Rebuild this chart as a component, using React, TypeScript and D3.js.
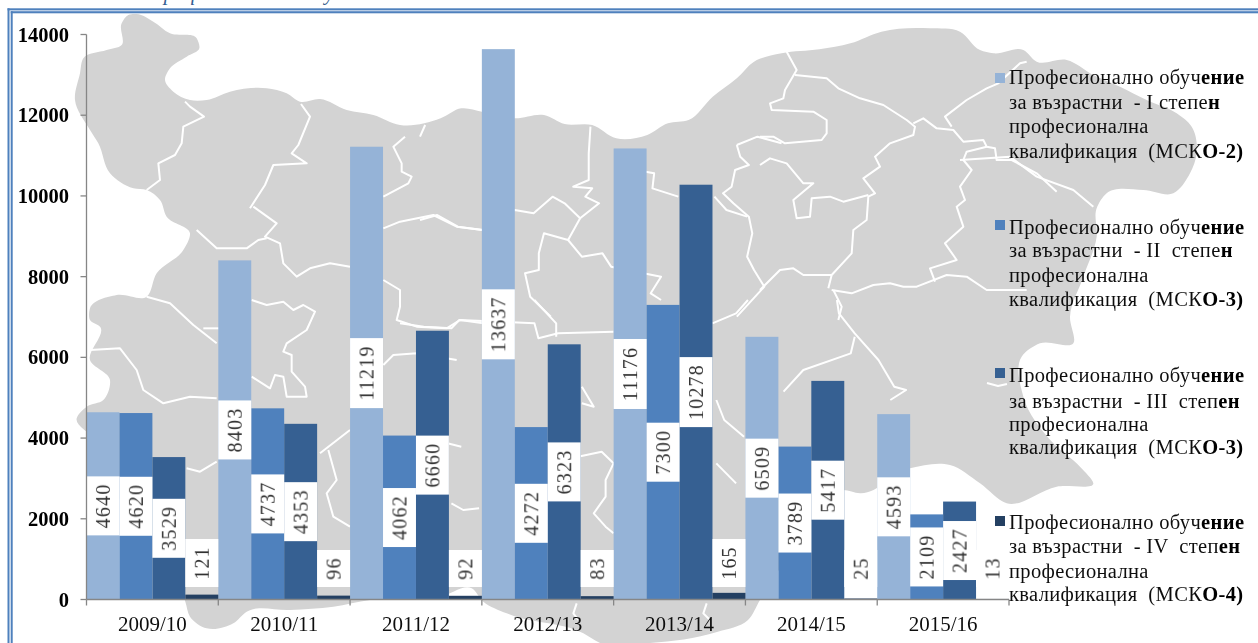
import React from "react";
import * as d3 from "d3";

const W = 1258;
const H = 643;

const years = ["2009/10", "2010/11", "2011/12", "2012/13", "2013/14", "2014/15", "2015/16"];
const seriesI = [4640, 8403, 11219, 13637, 11176, 6509, 4593];
const seriesII = [4620, 4737, 4062, 4272, 7300, 3789, 2109];
const seriesIII = [3529, 4353, 6660, 6323, 10278, 5417, 2427];
const seriesIV = [121, 96, 92, 83, 165, 25, 13];
const seriesColors = ["#95B3D7", "#4F81BD", "#366092", "#244062"];
const yTicks = [0, 2000, 4000, 6000, 8000, 10000, 12000, 14000];

const legendTexts = [
  [["Професионално обуч", "ение"], ["за възрастни  - I степе", "н"], ["професионална", ""], ["квалификация  (МСК", "О-2)"]],
  [["Професионално обуч", "ение"], ["за възрастни  - II  степе", "н"], ["професионална", ""], ["квалификация  (МСК", "О-3)"]],
  [["Професионално обуч", "ение"], ["за възрастни  - III  степ", "ен"], ["професионална", ""], ["квалификация  (МСК", "О-3)"]],
  [["Професионално обуч", "ение"], ["за възрастни  - IV  степ", "ен"], ["професионална", ""], ["квалификация  (МСК", "О-4)"]],
];
const legendLineY = [
  [84, 109, 133, 158],
  [234, 257, 282, 306],
  [382, 408, 431, 454],
  [529, 553, 578, 601],
];
const legendMarkY = [73, 220, 368, 516];
const titleText = "Професионално обучение";

// Background map of Bulgaria. [originX, originY, scaleX, scaleY, points]
type Seg = [number, number, number, number, number[][]];
const abs = (pts: number[][]): Seg => [0, 0, 1, 1, pts];
const outlineSegs: Seg[] = [
  [0, 0, 3, 3, [[250, 175], [320, 150], [365, 135], [365, 70], [385, 45], [410, 42], [460, 65], [510, 100], [590, 115], [598, 145], [560, 170], [510, 205], [495, 240], [520, 275], [570, 300], [620, 300], [690, 275], [800, 265], [860, 280], [900, 305], [960, 297], [1040, 330], [1120, 345], [1200, 375]]],
  [420, 0, 2.904, 3, [[60, 355], [120, 325], [180, 335], [275, 355], [360, 345], [420, 372], [500, 375], [570, 415], [660, 405], [720, 370], [780, 360], [850, 290], [920, 235], [970, 185], [1050, 160], [1160, 148], [1250, 130], [1340, 95], [1480, 85]]],
  [760, 20, 3, 3, [[600, 35], [660, 90], [700, 100], [790, 90], [830, 125]]],
  [960, 50, 3, 3, [[320, 30], [400, 75], [480, 110], [560, 150], [650, 190], [695, 230], [710, 310], [690, 370], [640, 430], [550, 420], [440, 430], [410, 475], [410, 560], [370, 680], [330, 800], [340, 880]]],
  [780, 340, 3, 3, [[780, 10], [725, 50], [730, 170], [820, 310], [900, 380], [940, 430], [830, 440], [680, 490], [600, 430], [510, 375], [390, 385], [240, 460], [190, 450]]],
  abs([[800, 540], [760, 600], [748, 620], [717, 632], [650, 643], [600, 643]]),
  [440, 570, 3, 3, [[430, 190], [200, 130], [130, 95], [95, 55]]],
  abs([[440, 597], [370, 600]]),
  [0, 420, 3, 3, [[1000, 560], [870, 570], [740, 575], [700, 610], [620, 625], [570, 590], [556, 545]]],
  abs([[160, 545], [120, 500], [95, 440]]),
  [0, 200, 3, 3, [[230, 655], [260, 620], [310, 600], [330, 540], [270, 480], [300, 380], [270, 360], [270, 325], [350, 285], [440, 290], [470, 220], [550, 150], [570, 100], [500, 50], [480, 0]]],
  [0, 0, 3, 3, [[440, 570], [400, 565], [330, 520], [295, 430], [270, 390], [225, 300], [240, 220]]],
];
const borderSegs: Seg[] = [
  [0, 0, 3, 3, [[555, 305], [570, 320], [612, 350], [550, 380], [545, 430], [525, 465], [475, 490], [480, 540], [440, 570]]],
  [0, 0, 3, 3, [[903, 312], [930, 350], [895, 435], [875, 460], [920, 490], [820, 495], [795, 555], [750, 625]]],
  [0, 200, 3, 3, [[760, 20], [830, 70], [795, 110], [840, 130], [850, 190], [890, 230], [930, 205], [990, 190], [1050, 200]]],
  [0, 200, 3, 3, [[590, 90], [650, 145], [740, 145], [775, 120], [800, 115]]],
  [0, 200, 3, 3, [[1150, 85], [1200, 65], [1300, 45], [1370, 80], [1450, 90]]],
  [420, 0, 2.904, 3, [[0, 660], [50, 645], [110, 680], [180, 690], [275, 630], [330, 640], [385, 590], [420, 610], [465, 655], [520, 610], [480, 590], [500, 565], [445, 560], [490, 540], [490, 460], [495, 380]]],
  [420, 0, 2.904, 3, [[465, 655], [430, 720], [360, 700], [345, 760], [345, 810], [305, 820], [320, 890], [380, 950]]],
  [420, 0, 2.904, 3, [[430, 720], [470, 770], [530, 760], [555, 800], [700, 830], [670, 880], [700, 900]]],
  [0, 0, 3, 3, [[1215, 410], [1180, 440], [1205, 490], [1205, 515], [1235, 530], [1225, 550], [1150, 590]]],
  [420, 0, 2.904, 3, [[0, 410], [15, 375]]],
  [0, 200, 3, 3, [[1150, 240], [1200, 270], [1200, 320], [1190, 360], [1250, 380], [1340, 385], [1380, 360], [1450, 370]]],
  [400, 300, 2.529, 3, [[0, 70], [60, 80], [130, 85], [150, 60], [340, 70], [350, 115], [400, 100], [540, 95]]],
  [400, 300, 2.529, 3, [[340, 0], [395, 70], [395, 110]]],
  [400, 300, 2.529, 3, [[130, 610], [160, 630], [200, 625]]],
  [400, 300, 2.529, 3, [[450, 470], [510, 455], [540, 490], [520, 540], [520, 590], [490, 640], [520, 680], [540, 700]]],
  [400, 300, 2.529, 3, [[790, 70], [850, 40], [880, 0]]],
  [400, 300, 2.529, 3, [[800, 300], [820, 360], [870, 410]]],
  [400, 300, 2.529, 3, [[800, 490], [850, 550]]],
  [400, 300, 2.529, 3, [[460, 260], [490, 320], [460, 310]]],
  [400, 300, 2.529, 3, [[120, 430], [155, 440]]],
  [0, 200, 3, 3, [[440, 290], [510, 310], [580, 375], [650, 430]]],
  [0, 200, 3, 3, [[610, 385], [660, 385]]],
  [0, 200, 3, 3, [[755, 300], [800, 315], [850, 305], [880, 330], [910, 315], [945, 335], [920, 390], [860, 430], [850, 455], [875, 465], [875, 515], [915, 560], [920, 590], [860, 590], [850, 530], [825, 525], [810, 565], [755, 530]]],
  [0, 200, 3, 3, [[270, 450], [360, 445], [410, 510], [430, 570], [490, 610], [570, 590], [650, 595]]],
  [0, 420, 3, 3, [[560, 145], [600, 155], [650, 125]]],
  [0, 420, 3, 3, [[960, 100], [1050, 30]]],
  [0, 420, 3, 3, [[985, 90], [1010, 180], [980, 220], [1000, 290], [1050, 320]]],
  [0, 200, 3, 3, [[1150, 495], [1180, 465], [1250, 460], [1370, 480]]],
  [760, 20, 3, 3, [[80, 95], [110, 150], [75, 210], [70, 235], [30, 250], [35, 270], [160, 275], [200, 300], [200, 340], [185, 360], [75, 370], [40, 350], [0, 350]]],
  [420, 0, 2.904, 3, [[920, 435], [980, 410], [1050, 430]]],
  [420, 0, 2.904, 3, [[920, 435], [930, 470], [955, 495], [915, 510], [905, 560], [880, 580], [910, 610], [955, 650], [965, 700], [950, 770], [970, 810], [1000, 860], [920, 950]]],
  [420, 0, 2.904, 3, [[655, 515], [680, 520], [675, 565], [750, 590]]],
  [420, 0, 2.904, 3, [[855, 590], [890, 630], [950, 650]]],
  [760, 20, 3, 3, [[105, 165], [200, 175], [235, 205], [300, 235], [370, 255], [440, 300], [465, 320], [460, 345], [390, 370], [345, 410], [360, 440], [310, 475], [345, 520], [325, 530], [320, 600], [280, 630], [275, 700], [215, 765], [205, 805]]],
  [760, 20, 3, 3, [[0, 435], [30, 415], [80, 430], [130, 490], [160, 490], [100, 540], [110, 595], [150, 590], [155, 535], [210, 530], [250, 545], [325, 525]]],
  [760, 20, 3, 3, [[460, 310], [490, 295], [530, 325], [580, 330], [610, 365], [670, 360], [680, 380], [705, 385], [710, 420], [755, 420], [830, 460], [890, 515]]],
  [760, 20, 3, 3, [[680, 380], [620, 395], [610, 420], [635, 450], [600, 500], [615, 540], [590, 560], [610, 620], [555, 670], [590, 720], [510, 745], [525, 785]]],
  [760, 20, 3, 3, [[0, 810], [60, 750], [100, 745], [130, 765], [215, 765]]],
  [760, 20, 3, 3, [[215, 810], [275, 820], [340, 795], [390, 790], [430, 800], [470, 800], [560, 765], [620, 770], [680, 810], [800, 810]]],
  [760, 20, 3, 3, [[220, 810], [245, 860], [235, 900]]],
  [400, 300, 2.529, 3, [[1105, 0], [1110, 40], [1150, 100], [1210, 180], [1250, 260], [1280, 270], [1240, 300]]],
  [400, 300, 2.529, 3, [[1150, 110], [1140, 160], [1020, 210], [970, 275]]],
  [760, 20, 3, 3, [[800, 125], [780, 130], [715, 190], [680, 205], [620, 240], [555, 290], [575, 320]]],
  [960, 50, 3, 3, [[0, 330], [150, 320], [230, 380], [340, 420], [400, 470]]],
  [440, 570, 3, 3, [[410, 100], [400, 130], [415, 150]]],
  [440, 570, 3, 3, [[800, 100], [790, 130], [810, 150]]],
  abs([[987, 383], [998, 386], [1007, 384]]),
];

const toAbs = ([ox, oy, sx, sy, pts]: Seg) =>
  pts.map(([x, y]) => [ox + x / sx, oy + y / sy] as [number, number]);

const AXIS = "#868686";
const serif = "'Liberation Serif', serif";

export default function App() {
  const x0 = d3.scaleBand<string>().domain(years).range([86.5, 1009]).paddingInner(0).paddingOuter(0);
  const series = [seriesI, seriesII, seriesIII, seriesIV];
  const x1 = d3.scaleBand<number>().domain([0, 1, 2, 3]).range([0, x0.bandwidth()]);
  const y = d3.scaleLinear().domain([0, 14000]).range([599.5, 34.5]);

  const outline = d3.line().curve(d3.curveCatmullRomClosed.alpha(1))(outlineSegs.flatMap(toAbs));
  const border = d3.line().curve(d3.curveLinear);

  const boxLen = (v: number) => String(v).length * 11 + 15;

  return (
    <svg
      width={W}
      height={H}
      viewBox={`0 0 ${W} ${H}`}
      style={{ position: "fixed", left: 0, top: 0, background: "#fff" }}
    >
      <defs>
        <filter id="soft" x="-5%" y="-5%" width="110%" height="110%">
          <feGaussianBlur stdDeviation="0.45" />
        </filter>
        <filter id="softMap" x="-2%" y="-2%" width="104%" height="104%">
          <feGaussianBlur stdDeviation="0.5" />
        </filter>
      </defs>

      <text x={148} y={0} fontFamily={serif} fontStyle="italic" fontSize={21} letterSpacing={0.6} fill="#365F91">
        {titleText}
      </text>

      <g filter="url(#softMap)">
        <path d={outline || ""} fill="#D3D3D3" />
        {borderSegs.map((s, i) => (
          <path key={i} d={border(toAbs(s)) || ""} fill="none" stroke="#fff" strokeWidth={2} strokeLinejoin="round" />
        ))}
      </g>

      <g fill="#4F81BD">
        <rect x={7.5} y={8.3} width={W} height={2.1} />
        <rect x={10.7} y={11.2} width={W} height={2.1} />
        <rect x={7.5} y={8.3} width={2} height={H} />
        <rect x={10.7} y={11.2} width={2} height={H} />
      </g>

      {/* bars */}
      {series.map((vals, s) => (
        <g key={s} fill={seriesColors[s]}>
          {vals.map((v, i) => (
            <rect
              key={i}
              x={(x0(years[i]) as number) + (x1(s) as number)}
              y={y(v)}
              width={x1.bandwidth()}
              height={y(0) - y(v)}
            />
          ))}
        </g>
      ))}

      {/* data labels */}
      {series.map((vals, s) =>
        vals.map((v, i) => {
          const bx = (x0(years[i]) as number) + (x1(s) as number);
          const len = boxLen(v);
          const cy = s === 3 ? y(0) - 12.5 - len / 2 : (y(v) + y(0)) / 2;
          const cx = bx + x1.bandwidth() / 2;
          return (
            <g key={`${s}-${i}`}>
              <rect x={bx} y={cy - len / 2} width={x1.bandwidth()} height={len} fill="#fff" />
              <text
                transform={`translate(${cx + 7},${cy}) rotate(-90)`}
                textAnchor="middle"
                fontFamily={serif}
                fontSize={20}
                letterSpacing={1.2}
                fill="#333"
                filter="url(#soft)"
              >
                {v}
              </text>
            </g>
          );
        })
      )}

      {/* axes */}
      <g stroke={AXIS} strokeWidth={1.3} fill="none">
        <line x1={86.5} x2={86.5} y1={y(14000)} y2={y(0)} />
        <line x1={86.5} x2={1009} y1={y(0)} y2={y(0)} />
        {yTicks.map((t) => (
          <line key={t} x1={80.5} x2={86.5} y1={y(t)} y2={y(t)} />
        ))}
        {years.map((c) => (
          <line key={c} x1={x0(c)} x2={x0(c)} y1={y(0)} y2={y(0) + 6} />
        ))}
        <line x1={1009} x2={1009} y1={y(0)} y2={y(0) + 6} />
      </g>

      <g filter="url(#soft)">
        {yTicks.map((t) => (
          <text key={t} x={69} y={y(t) + 7} textAnchor="end" fontFamily={serif} fontWeight={700} fontSize={20.5} fill="#000">
            {t}
          </text>
        ))}
        {years.map((c) => (
          <text
            key={c}
            x={(x0(c) as number) + x0.bandwidth() / 2}
            y={631}
            textAnchor="middle"
            fontFamily={serif}
            fontSize={21}
            fill="#111"
          >
            {c}
          </text>
        ))}
      </g>

      {/* legend */}
      {legendTexts.map((lines, s) => (
        <g key={s}>
          <rect x={995} y={legendMarkY[s]} width={10} height={10} fill={seriesColors[s]} />
          <g filter="url(#soft)" fontFamily={serif} fontSize={20.5} letterSpacing={0.35} fill="#111">
            {lines.map(([a, b], l) => (
              <text key={l} x={1009} y={legendLineY[s][l]} xmlSpace="preserve" style={{ whiteSpace: "pre" }}>
                {a}
                {b && <tspan fontWeight={700} fill="#000">{b}</tspan>}
              </text>
            ))}
          </g>
        </g>
      ))}
    </svg>
  );
}
